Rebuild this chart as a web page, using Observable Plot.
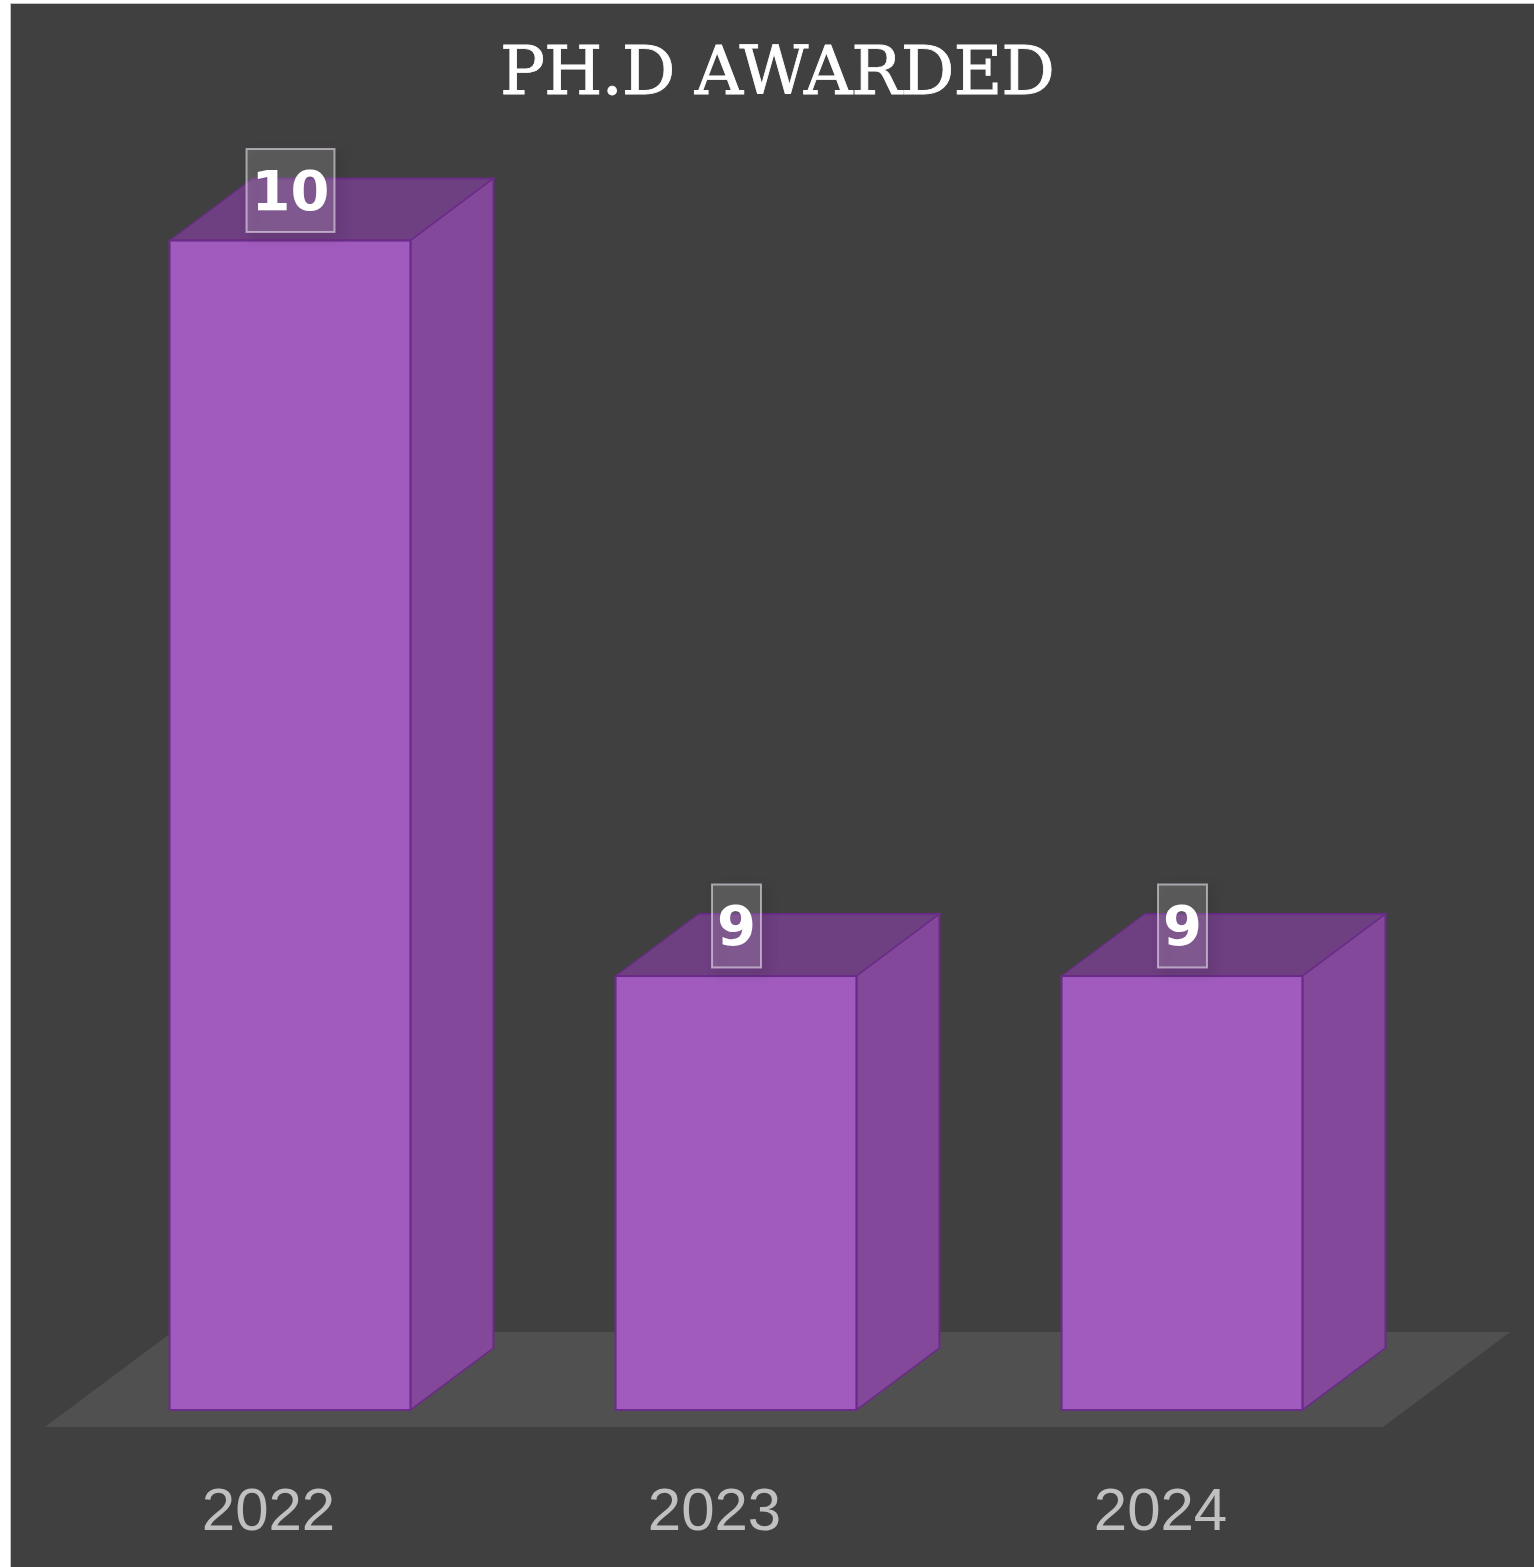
<!DOCTYPE html>
<html>
<head>
<meta charset="utf-8">
<script src="https://cdn.jsdelivr.net/npm/d3@7"></script>
<script src="https://cdn.jsdelivr.net/npm/@observablehq/plot@0.6"></script>
<style>
html, body { margin: 0; padding: 0; background: #ffffff; }
#chart { position: absolute; left: 10px; top: 3px; width: 1523px; height: 1563px; background: #404040;
  border-left: 1px solid #c4c4c4; border-top: 1px solid #c4c4c4; overflow: hidden; }
#title { position: absolute; left: 0; top: 34px; width: 100%; box-sizing: border-box; padding-left: 9px;
  text-align: center; font-family: "DejaVu Serif", serif; font-size: 67px; line-height: 66px;
  letter-spacing: -1px; color: #ffffff; -webkit-text-stroke: 0.8px #ffffff; }
#plot { position: absolute; left: 0; top: 130px; }
</style>
</head>
<body>
<div id="chart">
  <div id="title">PH.D AWARDED</div>
  <div id="plot"></div>
</div>
<script>
// ---- data ----
const years = ["2022", "2023", "2024"];
const values = [10, 9, 9];
const yDomain = [8.41, 10.1];

const data = years.map((year, i) => ({year, value: values[i]}));
const yMin = yDomain[0];

// ---- 3D look (styles) ----
const DEPTH_X = 83, DEPTH_Y = 62;
const SKEW_X = -Math.atan(DEPTH_X / DEPTH_Y) * 180 / Math.PI;   // top faces / floor
const SKEW_Y = -Math.atan(DEPTH_Y / DEPTH_X) * 180 / Math.PI;   // side faces
const EDGE = "#6a2c88";

const W = 1523, H = 1433;
const mL = 56, mR = 129, mT = 33, mB = 157;
const bandwidth = (W - mL - mR) / 3 * (1 - 0.46);

const plot = Plot.plot({
  width: W,
  height: H,
  marginLeft: mL,
  marginRight: mR,
  marginTop: mT,
  marginBottom: mB,
  style: {background: "transparent", color: "#c0c0c0", fontFamily: "'Liberation Sans', Arial, sans-serif", overflow: "visible"},
  x: {domain: years, paddingInner: 0.46, paddingOuter: 0.23, round: false, label: null},
  y: {domain: yDomain, axis: null},
  marks: [
    // floor
    Plot.frame({fill: "#505050", stroke: null, insetTop: (H - mT - mB) - 78, insetBottom: -17}),
    // top faces
    Plot.barY(data, {x: "year", y1: "value", y2: "value", insetTop: -DEPTH_Y,
      fill: "#6e3f81", stroke: EDGE, strokeWidth: 2}),
    // side faces
    Plot.barY(data, {x: "year", y1: () => yMin, y2: "value", insetLeft: bandwidth - DEPTH_X, dx: DEPTH_X,
      fill: "#84489a", stroke: EDGE, strokeWidth: 2}),
    // front faces
    Plot.barY(data, {x: "year", y1: () => yMin, y2: "value",
      fill: "#a15bbe", stroke: EDGE, strokeWidth: 2}),
    // value labels
    Plot.text(data, {x: "year", y: "value", text: d => String(d.value), dy: -49,
      fontSize: 56, fontWeight: "bold", fill: "#ffffff", fontFamily: "DejaVu Sans, sans-serif"}),
    // category axis
    Plot.axisX({tickSize: 0, tickPadding: 77, fontSize: 60, dx: -22, label: null})
  ]
});

document.getElementById("plot").appendChild(plot);

const svg = d3.select(plot);

// floor: skew into perspective, front edge shifted left
const floorRect = plot.querySelector('[aria-label="frame"]');
d3.select(floorRect.tagName.toLowerCase() === "rect" ? floorRect : floorRect.querySelector("rect"))
  .style("transform-box", "fill-box")
  .style("transform-origin", "left bottom")
  .style("transform", `translateX(-22px) skewX(${SKEW_X}deg)`);

const barGroups = plot.querySelectorAll('g[aria-label="bar"]');
// top faces
d3.select(barGroups[0]).selectAll("rect")
  .style("transform-box", "fill-box")
  .style("transform-origin", "left bottom")
  .style("transform", `skewX(${SKEW_X}deg)`);
// side faces
d3.select(barGroups[1]).selectAll("rect")
  .style("transform-box", "fill-box")
  .style("transform-origin", "left top")
  .style("transform", `skewY(${SKEW_Y}deg)`);

// boxes behind value labels
const textGroup = plot.querySelector('g[aria-label="text"]');
d3.select(textGroup).selectAll("text").each(function () {
  const bb = this.getBBox();
  const cy = bb.y + bb.height / 2;
  const padX = 5, h = 83;
  const t = this.getAttribute("transform");
  const r = document.createElementNS("http://www.w3.org/2000/svg", "rect");
  r.setAttribute("x", bb.x - padX);
  r.setAttribute("y", cy - h / 2);
  r.setAttribute("width", bb.width + 2 * padX);
  r.setAttribute("height", h);
  if (t) r.setAttribute("transform", t);
  r.setAttribute("fill", "rgba(255,255,255,0.15)");
  r.setAttribute("stroke", "rgba(235,225,240,0.6)");
  r.setAttribute("stroke-width", "2");
  r.style.filter = "drop-shadow(5px 5px 6px rgba(0,0,0,0.35))";
  this.parentNode.insertBefore(r, this);
});
</script>
</body>
</html>
